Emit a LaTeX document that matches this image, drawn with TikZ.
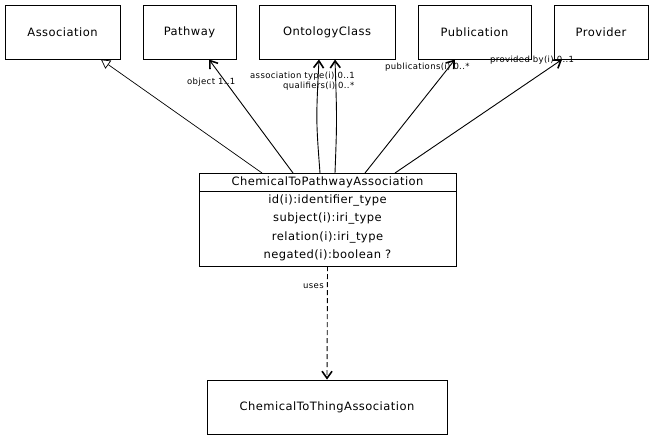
\documentclass[tikz,border=0pt]{standalone}
\usepackage{fontspec}
\setmainfont{DejaVu Sans}
\newfontfamily\spfont[LetterSpace=4]{DejaVu Sans}
\usetikzlibrary{arrows.meta,calc}
\begin{document}
\begin{tikzpicture}[x=1pt,y=-1pt,
  cls/.style={draw,line width=0.8pt,minimum height=54pt,inner sep=0pt,font=\spfont\fontsize{11.5}{13}\selectfont},
  lbl/.style={font=\spfont\fontsize{8.5}{9}\selectfont,inner sep=0pt,anchor=west},
  attr/.style={font=\spfont\fontsize{11.5}{13}\selectfont,inner sep=0pt},
  assoc/.style={line width=0.9pt,-{Straight Barb[length=7pt,width=10pt,line width=1.6pt]}},
  gen/.style={line width=0.7pt,-{Triangle[open,length=9pt,width=10pt]}}]
\useasboundingbox (0,0) rectangle (653,440);
\node[cls,minimum width=115pt] (assoc) at (62.5,32) {Association};
\node[cls,minimum width=93pt] (path) at (189.5,32) {Pathway};
\node[cls,minimum width=136pt] (onto) at (327,32) {OntologyClass};
\node[cls,minimum width=113pt] (pub) at (474.5,32) {Publication};
\node[cls,minimum width=94pt] (prov) at (601,32) {Provider};
\node[cls,minimum width=240pt] (thing) at (327,407) {ChemicalToThingAssociation};
% main class
\draw[line width=0.8pt] (199,173) rectangle (456,266);
\draw[line width=0.8pt] (199,191) -- (456,191);
\node[attr] (hdr) at (327.5,182) {ChemicalToPathwayAssociation};
\node[attr] (a1) at (327.5,200) {id(i):identifier\_type};
\node[attr] (a2) at (327.5,218.5) {subject(i):iri\_type};
\node[attr] (a3) at (327.5,237) {relation(i):iri\_type};
\node[attr] (a4) at (327.5,255.5) {negated(i):boolean ?};
\coordinate (mtop) at (327.5,173);
\coordinate (mbot) at (327.5,266);
% connectors
\draw[gen] ($(mtop)+(-65.5,0)$) -- (101,59.5);
\draw[assoc] ($(mtop)+(-34.5,0)$) -- (209,59.5);
\draw[assoc] ($(mtop)+(-7.5,0)$) .. controls (316,120) .. (319,59.5);
\draw[assoc] ($(mtop)+(7.5,0)$) .. controls (337,120) .. (335,59.5);
\draw[assoc] ($(mtop)+(37.5,0)$) -- (455,59.5);
\draw[assoc] ($(mtop)+(67.5,0)$) -- (562,59.5);
\draw[assoc,dash pattern=on 5pt off 3pt] (mbot) -- (thing.north);
% labels
\node[lbl] (l1) at (187,82) {object 1..1};
\node[lbl] (l2) at (250,76) {association type(i) 0..1};
\node[lbl] (l3) at (283,86) {qualifiers(i) 0..*};
\node[lbl] (l4) at (385,67) {publications(i) 0..*};
\node[lbl] (l5) at (490,60) {provided by(i) 0..1};
\node[lbl] (l6) at (303,286) {uses};
\end{tikzpicture}
\end{document}
